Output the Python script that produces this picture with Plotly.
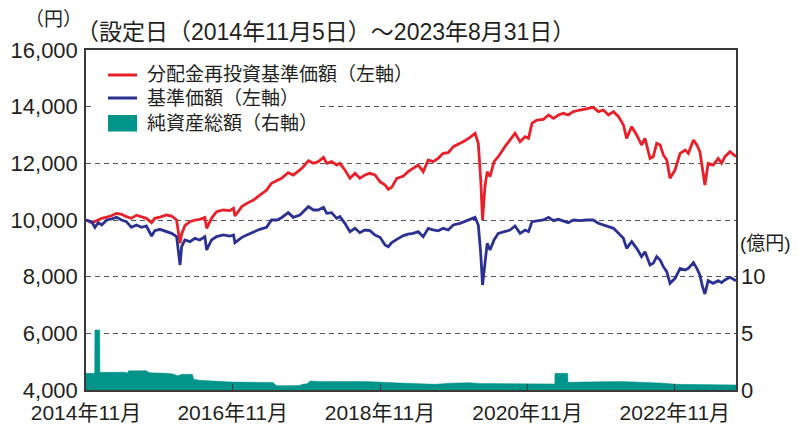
import plotly.graph_objects as go

# ---------------- data ----------------
dates = [
    "2014-11-05", "2014-12-03", "2014-12-19", "2015-01-05", "2015-01-22", "2015-02-16", "2015-03-11", "2015-04-05",
    "2015-04-30", "2015-05-24", "2015-06-18", "2015-07-13", "2015-08-07", "2015-08-31", "2015-09-26", "2015-10-12",
    "2015-11-06", "2015-12-09", "2016-01-03", "2016-01-28", "2016-02-14", "2016-02-22", "2016-03-09", "2016-04-03",
    "2016-04-28", "2016-05-22", "2016-06-16", "2016-06-25", "2016-07-19", "2016-08-13", "2016-09-15", "2016-10-18",
    "2016-11-05", "2016-11-12", "2016-12-16", "2017-01-10", "2017-02-12", "2017-03-15", "2017-04-18", "2017-05-12",
    "2017-06-07", "2017-07-01", "2017-08-03", "2017-08-28", "2017-09-30", "2017-10-17", "2017-11-11", "2017-12-06",
    "2017-12-30", "2018-01-25", "2018-02-10", "2018-03-06", "2018-03-31", "2018-04-16", "2018-05-11", "2018-06-05",
    "2018-06-30", "2018-07-24", "2018-08-18", "2018-09-12", "2018-10-07", "2018-11-01", "2018-11-26", "2018-12-12",
    "2018-12-29", "2019-01-23", "2019-02-25", "2019-03-20", "2019-04-14", "2019-05-09", "2019-06-03", "2019-06-28",
    "2019-07-22", "2019-08-16", "2019-09-10", "2019-10-05", "2019-10-30", "2019-12-02", "2019-12-27", "2020-01-21",
    "2020-02-15", "2020-03-02", "2020-03-14", "2020-03-23", "2020-04-04", "2020-04-15", "2020-04-29", "2020-05-19",
    "2020-06-09", "2020-07-12", "2020-08-06", "2020-08-31", "2020-09-25", "2020-10-20", "2020-11-06", "2020-11-23",
    "2020-12-17", "2021-01-19", "2021-02-13", "2021-03-10", "2021-04-03", "2021-04-28", "2021-05-22", "2021-06-16",
    "2021-07-19", "2021-08-21", "2021-09-23", "2021-10-18", "2021-11-12", "2021-12-07", "2022-01-01", "2022-01-26",
    "2022-02-19", "2022-03-07", "2022-04-01", "2022-04-26", "2022-05-20", "2022-06-06", "2022-07-01", "2022-07-17",
    "2022-08-03", "2022-08-20", "2022-09-05", "2022-09-22", "2022-10-08", "2022-11-02", "2022-11-27", "2022-12-22",
    "2023-01-07", "2023-02-01", "2023-02-18", "2023-03-05", "2023-03-18", "2023-03-30", "2023-04-15", "2023-05-10",
    "2023-06-04", "2023-06-21", "2023-07-07", "2023-08-01", "2023-08-31",
]

reinvested_nav = [
    10000, 9906, 9950, 10000, 10059, 10100, 10150, 10235,
    10200, 10120, 10059, 10170, 10120, 10059, 9906, 10059,
    10100, 10176, 10141, 10000, 9176, 9500, 9800, 9941,
    10000, 10024, 10094, 9706, 10059, 10294, 10353, 10329,
    10412, 10141, 10471, 10588, 10706, 10882, 11059, 11294,
    11388, 11471, 11671, 11588, 11765, 11882, 12094, 12000,
    12059, 12212, 12000, 12059, 11941, 12000, 11765, 11471,
    11647, 11471, 11588, 11647, 11588, 11353, 11235, 11082,
    11153, 11471, 11553, 11706, 11824, 11941, 11706, 12118,
    12059, 12176, 12353, 12376, 12588, 12706, 12800, 12918,
    13059, 12706, 11412, 10000, 11176, 11706, 11529, 12059,
    12235, 12588, 12824, 13059, 12765, 12941, 12882, 13412,
    13529, 13553, 13706, 13588, 13706, 13765, 13706, 13824,
    13882, 13941, 13976, 13824, 13882, 13706, 13824, 13647,
    13353, 12882, 13294, 13000, 12647, 12882, 12176, 12235,
    12706, 12647, 12294, 12118, 11471, 11765, 12353, 12470,
    12353, 12824, 12647, 12412, 11824, 11235, 12000, 11941,
    12176, 12000, 12235, 12412, 12235,
]

nav = [
    10000, 9941, 9741, 9906, 9824, 10000, 10035, 10094,
    10000, 9941, 9741, 9824, 9741, 9788, 9435, 9624,
    9671, 9588, 9530, 9412, 8412, 9059, 9294, 9235,
    9353, 9294, 9412, 8941, 9294, 9412, 9471, 9435,
    9471, 9200, 9388, 9471, 9588, 9671, 9741, 10000,
    10000, 10082, 10259, 10094, 10176, 10294, 10471, 10353,
    10353, 10447, 10235, 10259, 10059, 10118, 9882, 9588,
    9706, 9553, 9647, 9624, 9471, 9388, 9118, 9059,
    9200, 9318, 9450, 9500, 9529, 9588, 9412, 9706,
    9650, 9620, 9706, 9647, 9824, 9882, 9950, 10000,
    10094, 9824, 8824, 7706, 8471, 9176, 8941, 9294,
    9529, 9588, 9647, 9788, 9529, 9647, 9588, 9941,
    9976, 10000, 10094, 9976, 10024, 9976, 9906, 10000,
    9976, 10000, 10000, 9882, 9824, 9765, 9706, 9529,
    9353, 9000, 9235, 9000, 8706, 8882, 8412, 8471,
    8706, 8588, 8353, 8176, 7765, 7941, 8294, 8235,
    8294, 8494, 8294, 8059, 7647, 7388, 7859, 7765,
    7859, 7788, 7882, 7976, 7859,
]

asset_dates = [
    "2014-11-05", "2014-12-18", "2014-12-19", "2015-01-12", "2015-01-13", "2015-05-20", "2015-05-28", "2015-06-05",
    "2015-09-01", "2015-09-15", "2015-12-10", "2016-01-10", "2016-02-01", "2016-02-23", "2016-04-15", "2016-04-22",
    "2016-05-22", "2016-07-26", "2016-11-01", "2017-05-19", "2017-06-08", "2017-09-30", "2017-10-10", "2017-11-04",
    "2017-11-20", "2018-01-08", "2018-08-28", "2019-02-08", "2019-05-17", "2019-08-01", "2019-10-13", "2020-01-15",
    "2020-03-10", "2020-10-30", "2021-03-16", "2021-03-17", "2021-05-19", "2021-05-20", "2021-11-30", "2022-02-03",
    "2022-08-20", "2022-11-12", "2023-08-31",
]
net_assets = [
    1.47, 1.47, 5.3, 5.3, 1.56, 1.56, 1.47, 1.7,
    1.7, 1.53, 1.47, 1.41, 1.26, 1.38, 1.38, 0.94,
    0.85, 0.78, 0.7, 0.67, 0.38, 0.4, 0.5, 0.55,
    0.79, 0.76, 0.74, 0.62, 0.55, 0.5, 0.6, 0.65,
    0.58, 0.56, 0.53, 1.47, 1.47, 0.68, 0.7, 0.76,
    0.62, 0.5, 0.45,
]

x_tick_vals = ["2014-11-05", "2016-11-01", "2018-11-01", "2020-11-01", "2022-11-01"]
x_tick_text = ["2014年11月", "2016年11月", "2018年11月", "2020年11月", "2022年11月"]
left_ticks = [4000, 6000, 8000, 10000, 12000, 14000, 16000]
right_ticks = [0, 5, 10]

legend_labels = ["分配金再投資基準価額（左軸）", "基準価額（左軸）", "純資産総額（右軸）"]

# ---------------- styles ----------------
RED = "#E8202A"
BLUE = "#2B3190"
TEAL = "#00948A"
TXT = "#231F20"
AX = "#3A3A3A"
FONT = "Liberation Sans, Arial, Noto Sans CJK JP, sans-serif"

fig = go.Figure()
fig.add_trace(go.Scatter(x=asset_dates, y=net_assets, yaxis="y2", mode="lines",
                         line=dict(color=TEAL, width=0.5), fill="tozeroy", fillcolor=TEAL,
                         showlegend=False, hoverinfo="skip"))
fig.add_trace(go.Scatter(x=dates, y=reinvested_nav, mode="lines",
                         line=dict(color=RED, width=2.8), showlegend=False))
fig.add_trace(go.Scatter(x=dates, y=nav, mode="lines",
                         line=dict(color=BLUE, width=2.8), showlegend=False))

# page body has an 8px margin: figure is 791x417 placed at (8, 8)
fig.update_layout(
    width=791, height=417,
    margin=dict(l=78, r=63, t=42, b=35, autoexpand=False),
    paper_bgcolor="white", plot_bgcolor="white",
    font=dict(family=FONT, size=21, color=TXT),
    xaxis=dict(type="date", range=["2014-11-05", "2023-08-31"], automargin=False,
               tickmode="array", tickvals=x_tick_vals, ticktext=x_tick_text,
               ticks="inside", ticklen=6, tickwidth=1.2, tickcolor=AX,
               showline=True, linecolor=AX, linewidth=1.5, mirror=True,
               showgrid=False, zeroline=False, ticklabelstandoff=3,
               tickfont=dict(family=FONT, size=21, color=TXT)),
    yaxis=dict(range=[4000, 16000], tickmode="array", tickvals=left_ticks, tickformat=",",
               automargin=False,
               showgrid=True, gridcolor="#555555", gridwidth=1.2, griddash="5px,4px",
               showline=True, linecolor=AX, linewidth=1.5, mirror=True,
               ticks="", zeroline=False, ticklabelstandoff=2,
               tickfont=dict(family=FONT, size=22, color=TXT)),
    yaxis2=dict(range=[0, 30], overlaying="y", side="right", tickmode="array",
                automargin=False,
                tickvals=right_ticks, showgrid=False, showline=False, zeroline=False,
                ticks="", ticklabelstandoff=4,
                tickfont=dict(family=FONT, size=22, color=TXT)),
)

# helpers: convert reference-window pixel positions to paper fractions of the plot area
def px_x(p):
    return (p - 86) / 650.0

def px_y(p):
    return (390 - p) / 340.0

# legend (drawn manually to match the reference box / swatch sizes)
fig.add_shape(type="rect", xref="paper", yref="paper", layer="above",
              x0=px_x(93), x1=px_x(318), y0=px_y(136), y1=px_y(60),
              fillcolor="white", line=dict(width=0))
fig.add_shape(type="line", xref="paper", yref="paper", layer="above",
              x0=px_x(108), x1=px_x(137), y0=px_y(75), y1=px_y(75),
              line=dict(color=RED, width=3))
fig.add_shape(type="line", xref="paper", yref="paper", layer="above",
              x0=px_x(108), x1=px_x(137), y0=px_y(98), y1=px_y(98),
              line=dict(color=BLUE, width=3))
fig.add_shape(type="rect", xref="paper", yref="paper", layer="above",
              x0=px_x(108), x1=px_x(137), y0=px_y(131.5), y1=px_y(115),
              fillcolor=TEAL, line=dict(width=0))
for lab, yy in zip(legend_labels, [75, 98, 123]):
    fig.add_annotation(text=lab, xref="paper", yref="paper", x=px_x(145), y=px_y(yy),
                       xanchor="left", yanchor="middle", showarrow=False,
                       font=dict(family=FONT, size=19, color=TXT))

fig.add_annotation(text="（円）", xref="paper", yref="paper", x=px_x(84), y=px_y(19),
                   xanchor="right", yanchor="middle", showarrow=False,
                   font=dict(family=FONT, size=19, color=TXT))
fig.add_annotation(text="（設定日（2014年11月5日）～2023年8月31日）", xref="paper", yref="paper",
                   x=px_x(74), y=px_y(32), xanchor="left", yanchor="middle", showarrow=False,
                   font=dict(family=FONT, size=23, color=TXT))
fig.add_annotation(text="(億円)", xref="paper", yref="paper", x=px_x(738), y=px_y(243),
                   xanchor="left", yanchor="middle", showarrow=False,
                   font=dict(family=FONT, size=19, color=TXT))

fig.write_html("out.html")
